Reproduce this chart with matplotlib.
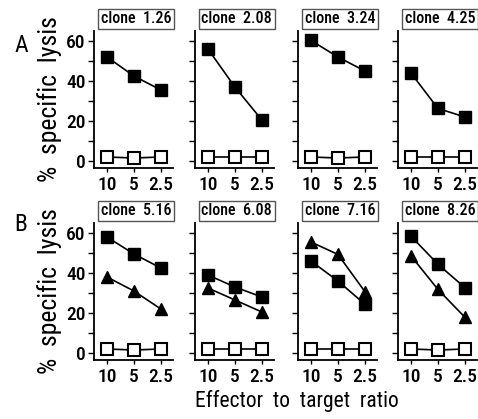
import matplotlib
matplotlib.use('Agg')
import matplotlib.pyplot as plt

plt.rcParams['font.family'] = ['Roboto Condensed', 'DejaVu Sans']

ratios = ['10', '5', '2.5']

clones_a = ['clone  1.26', 'clone  2.08', 'clone  3.24', 'clone  4.25']
filled_a = [[52, 42.5, 35.5], [56, 37, 20.5], [60.3, 52, 45], [44, 26.3, 22]]
open_a = [[2, 1.5, 2], [2, 2, 2], [2, 1.5, 2], [2, 2, 2]]

clones_b = ['clone  5.16', 'clone  6.08', 'clone  7.16', 'clone  8.26']
filled_b = [[58, 49.5, 42.5], [39, 33, 28], [46, 36, 24.4], [58.4, 44.4, 32.7]]
tri_b = [[38, 31, 22], [32.5, 26.5, 20.5], [55.5, 49.3, 30.7], [48.6, 31.8, 17.9]]
open_b = [[2, 1.5, 2], [2, 2, 2], [2, 2, 2], [2, 1.5, 2]]

W, H = 478, 419
fig = plt.figure(figsize=(W / 100, H / 100), dpi=100)

lefts = [94, 195, 298, 398]
tops = [31, 223]
aw, ah = 79, 137


def make_ax(left, top):
    return fig.add_axes([left / W, 1 - (top + ah) / H, aw / W, ah / H])


def style(ax, col, title):
    x = [0, 1, 2]
    ax.set_xlim(-0.48, 2.45)
    ax.set_ylim(-3.5, 65)
    for s in ['top', 'right']:
        ax.spines[s].set_visible(False)
    for s in ['left', 'bottom']:
        ax.spines[s].set_linewidth(1.3)
    ax.set_xticks(x)
    ax.set_xticklabels(ratios, fontsize=14, fontweight='medium')
    ax.set_yticks([0, 20, 40, 60])
    ax.set_yticks([10, 30, 50], minor=True)
    ax.tick_params(axis='x', length=3, width=1, pad=3)
    ax.tick_params(axis='y', which='both', length=4, width=1, pad=2)
    if col == 0:
        ax.set_yticklabels(['0', '20', '40', '60'], fontsize=14, fontweight='medium')
        ax.set_ylabel('%  specific  lysis', fontsize=18.5, labelpad=3)
    else:
        ax.set_yticklabels([])
    ax.text(0.53, 1.035, title, transform=ax.transAxes, ha='center', va='bottom',
            fontsize=11.5, fontweight='medium',
            bbox=dict(boxstyle='square,pad=0.15', fc='white', ec='#555555', lw=1))


for i in range(4):
    ax = make_ax(lefts[i], tops[0])
    x = [0, 1, 2]
    ax.plot(x, filled_a[i], color='black', lw=1.2, marker='s', ms=9, mfc='black', mec='black')
    ax.plot(x, open_a[i], color='black', lw=1.2, marker='s', ms=8, mfc='white', mec='black', mew=1.5)
    style(ax, i, clones_a[i])

for i in range(4):
    ax = make_ax(lefts[i], tops[1])
    x = [0, 1, 2]
    ax.plot(x, filled_b[i], color='black', lw=1.2, marker='s', ms=9, mfc='black', mec='black')
    ax.plot(x, tri_b[i], color='black', lw=1.2, marker='^', ms=9, mfc='black', mec='black')
    ax.plot(x, open_b[i], color='black', lw=1.2, marker='s', ms=8, mfc='white', mec='black', mew=1.5)
    style(ax, i, clones_b[i])

fig.text(21 / W, 1 - 45 / H, 'A', fontsize=17, ha='center', va='center')
fig.text(21 / W, 1 - 224 / H, 'B', fontsize=17, ha='center', va='center')
fig.text(297 / W, 1 - 401 / H, 'Effector  to  target  ratio', fontsize=15.5,
         ha='center', va='center')

fig.savefig('out.png', dpi=100)
